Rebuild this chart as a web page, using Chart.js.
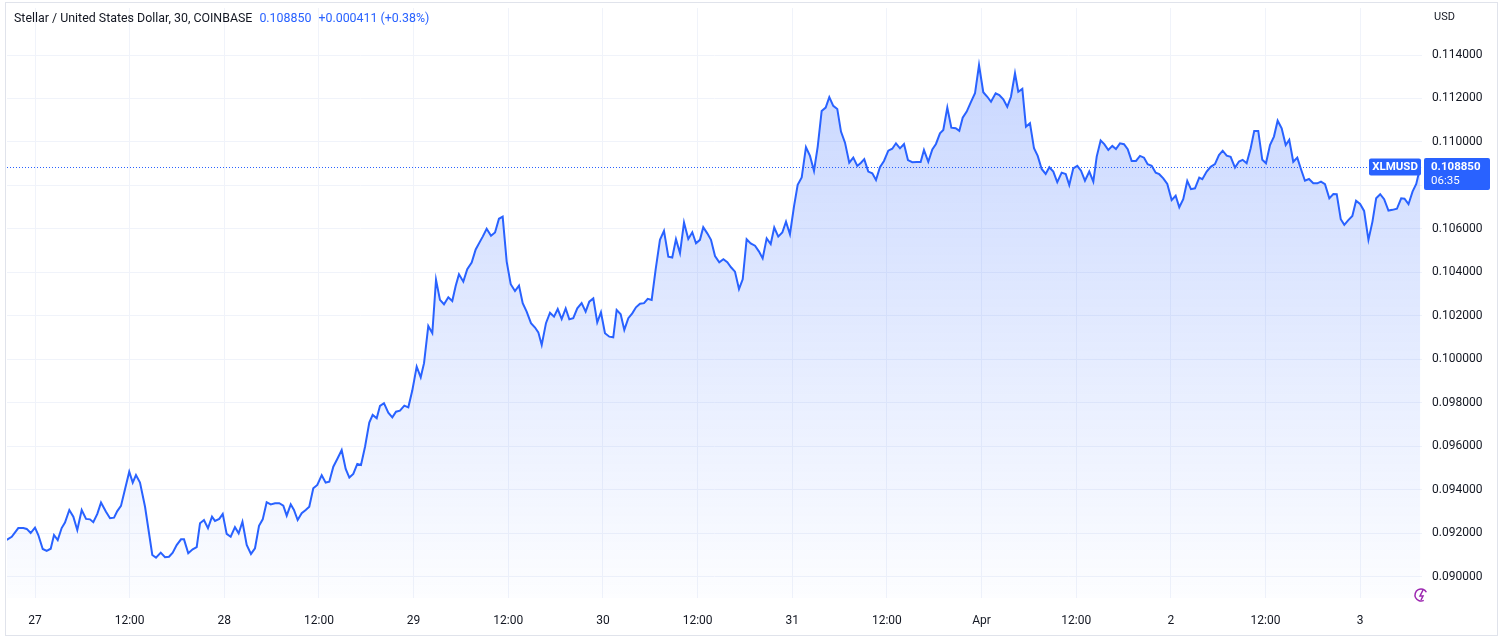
<!DOCTYPE html>
<html><head><meta charset="utf-8">
<script src="https://cdn.jsdelivr.net/npm/chart.js@4.4.1/dist/chart.umd.min.js"></script>
<style>html,body{margin:0;padding:0;background:#fff;}canvas{display:block;}</style>
</head><body>
<canvas id="c" width="1500" height="643"></canvas>
<script>
// hours since 27 Mar 00:00 (30-minute bars)
const hours = [-3.59,-2.95,-2.12,-1.48,-1.05,-0.55,0.00,0.42,0.98,1.48,1.99,2.41,2.88,3.38,3.80,4.35,4.86,5.36,5.92,6.47,6.97,7.39,7.90,8.37,9.00,9.51,10.02,10.43,10.90,11.41,11.95,12.39,12.80,13.31,13.95,14.36,14.87,15.34,15.94,16.48,16.99,17.46,17.96,18.51,18.89,19.43,19.99,20.50,20.92,21.42,21.93,22.44,22.82,23.36,23.80,24.30,24.81,25.35,25.82,26.30,26.84,27.38,27.89,28.40,28.87,29.37,29.88,30.43,30.97,31.48,31.91,32.42,32.83,33.30,33.81,34.32,34.77,35.28,35.79,36.35,36.85,37.31,37.82,38.37,38.88,39.39,39.85,40.35,40.86,41.33,41.84,42.38,42.81,43.32,43.74,44.24,44.79,45.30,45.77,46.27,46.82,47.33,47.83,48.39,48.90,49.32,49.86,50.37,50.84,51.34,51.85,52.40,52.90,53.33,53.75,54.30,54.80,55.36,55.87,56.41,56.76,57.26,57.81,58.32,58.82,59.29,59.80,60.31,60.85,61.36,61.83,62.33,62.88,63.39,63.81,64.24,64.78,65.29,65.80,66.27,66.77,67.28,67.74,68.24,68.75,69.30,69.81,70.27,70.78,71.28,71.75,72.26,72.81,73.31,73.74,74.25,74.71,75.22,75.72,76.19,76.70,77.21,77.68,78.18,78.69,79.23,79.74,80.29,80.79,81.26,81.77,82.28,82.82,83.33,83.80,84.30,84.72,85.23,85.70,86.21,86.75,87.27,87.77,88.24,88.74,89.25,89.72,90.22,90.73,91.28,91.79,92.25,92.76,93.27,93.72,94.23,94.74,95.21,95.71,96.22,96.69,97.20,97.74,98.25,98.76,99.23,99.73,100.24,100.70,101.20,101.71,102.18,102.69,103.23,103.74,104.25,104.72,105.13,105.64,106.15,106.62,107.12,107.63,108.18,108.68,109.15,109.66,110.17,110.67,111.22,111.78,112.28,112.70,113.25,113.76,114.22,114.73,115.15,115.66,116.17,116.72,117.18,117.61,118.12,118.62,119.17,119.68,120.22,120.73,121.20,121.79,122.25,122.76,123.26,123.73,124.24,124.66,125.17,125.63,126.14,126.65,127.12,127.62,128.13,128.59,129.10,129.60,130.16,130.67,131.12,131.63,132.14,132.61,133.11,133.66,134.17,134.60,135.10,135.56,136.07,136.58,137.04,137.55,138.06,138.53,139.03,139.58,140.09,140.60,141.06,141.57,142.08,142.53,143.04,143.55,144.10,144.61,145.07,145.57,146.08,146.55,147.06,147.60,147.99,148.54,149.05,149.59,150.10,150.57,151.08,151.58,152.13,152.64,153.10,153.61,154.12,154.57,155.08,155.59,156.06,156.57,157.07,157.54,158.05,158.56,159.01,159.52,160.03,160.50,161.00,161.51,162.06,162.57,163.03,163.54,164.09,164.60,165.03,165.54,165.99,166.50,167.01,167.48,167.99,168.50,169.05,169.56,170.03,170.54,171.04,171.59,172.10,172.66,173.20,173.62,174.13,174.64,175.11,175.62];
const prices = [0.09170,0.09185,0.09225,0.09225,0.09221,0.09202,0.09227,0.09193,0.09129,0.09120,0.09130,0.09193,0.09170,0.09225,0.09250,0.09308,0.09277,0.09216,0.09308,0.09267,0.09265,0.09252,0.09290,0.09342,0.09300,0.09270,0.09273,0.09303,0.09327,0.09403,0.09484,0.09434,0.09469,0.09434,0.09323,0.09224,0.09101,0.09089,0.09112,0.09091,0.09093,0.09112,0.09147,0.09173,0.09173,0.09109,0.09127,0.09137,0.09247,0.09262,0.09224,0.09277,0.09258,0.09267,0.09290,0.09198,0.09185,0.09229,0.09201,0.09254,0.09147,0.09106,0.09132,0.09235,0.09265,0.09344,0.09334,0.09339,0.09339,0.09328,0.09282,0.09334,0.09308,0.09262,0.09293,0.09308,0.09323,0.09408,0.09423,0.09468,0.09434,0.09438,0.09507,0.09546,0.09584,0.09497,0.09457,0.09474,0.09520,0.09515,0.09599,0.09710,0.09745,0.09730,0.09787,0.09799,0.09755,0.09734,0.09760,0.09765,0.09788,0.09780,0.09857,0.09967,0.09918,0.09983,0.10154,0.10121,0.10366,0.10274,0.10254,0.10286,0.10269,0.10338,0.10392,0.10358,0.10415,0.10446,0.10506,0.10542,0.10565,0.10601,0.10569,0.10584,0.10647,0.10657,0.10450,0.10346,0.10315,0.10340,0.10259,0.10220,0.10167,0.10147,0.10125,0.10067,0.10167,0.10215,0.10197,0.10232,0.10186,0.10235,0.10185,0.10190,0.10235,0.10259,0.10220,0.10266,0.10281,0.10171,0.10217,0.10121,0.10105,0.10102,0.10228,0.10208,0.10136,0.10190,0.10212,0.10240,0.10256,0.10259,0.10279,0.10274,0.10415,0.10550,0.10591,0.10473,0.10469,0.10553,0.10489,0.10630,0.10554,0.10585,0.10534,0.10550,0.10608,0.10580,0.10550,0.10476,0.10447,0.10461,0.10447,0.10424,0.10404,0.10324,0.10369,0.10553,0.10534,0.10523,0.10496,0.10465,0.10557,0.10531,0.10607,0.10565,0.10584,0.10634,0.10576,0.10703,0.10803,0.10837,0.10976,0.10936,0.10867,0.10979,0.11143,0.11158,0.11206,0.11166,0.11152,0.11048,0.10997,0.10905,0.10928,0.10890,0.10905,0.10921,0.10864,0.10856,0.10825,0.10884,0.10913,0.10960,0.10969,0.10994,0.10971,0.10991,0.10917,0.10907,0.10908,0.10908,0.10963,0.10909,0.10966,0.10991,0.11040,0.11055,0.11158,0.11066,0.11063,0.11051,0.11112,0.11140,0.11181,0.11224,0.11354,0.11229,0.11208,0.11185,0.11224,0.11216,0.11196,0.11162,0.11208,0.11316,0.11231,0.11244,0.11070,0.11086,0.10971,0.10936,0.10876,0.10853,0.10884,0.10864,0.10815,0.10859,0.10853,0.10802,0.10879,0.10890,0.10868,0.10822,0.10864,0.10818,0.10933,0.11007,0.10990,0.10963,0.10982,0.10968,0.10994,0.10990,0.10967,0.10913,0.10913,0.10936,0.10928,0.10898,0.10891,0.10859,0.10852,0.10833,0.10807,0.10733,0.10753,0.10700,0.10737,0.10821,0.10783,0.10787,0.10836,0.10829,0.10864,0.10886,0.10898,0.10940,0.10960,0.10937,0.10932,0.10882,0.10910,0.10918,0.10902,0.10971,0.11051,0.11051,0.10918,0.10902,0.10986,0.11025,0.11098,0.11063,0.10986,0.11010,0.10909,0.10928,0.10875,0.10822,0.10830,0.10810,0.10810,0.10818,0.10806,0.10741,0.10761,0.10760,0.10645,0.10619,0.10641,0.10660,0.10730,0.10715,0.10683,0.10550,0.10634,0.10741,0.10760,0.10737,0.10685,0.10688,0.10693,0.10741,0.10739,0.10714,0.10772,0.10807,0.10885];
const xTickHours = [0,12,24,36,48,60,72,84,96,108,120,132,144,156,168];
const xTickLabels = ['27','12:00','28','12:00','29','12:00','30','12:00','31','12:00','Apr','12:00','2','12:00','3'];
const yTickValues = [0.090,0.092,0.094,0.096,0.098,0.100,0.102,0.104,0.106,0.108,0.110,0.112,0.114];
const titleText = 'Stellar / United States Dollar, 30, COINBASE';
const lastPrice = 0.108850;
const changeText = '+0.000411 (+0.38%)';
const symbolText = 'XLMUSD';
const countdownText = '06:35';
const currencyText = 'USD';

const FONT = 'Roboto, "Noto Sans", sans-serif';
const BLUE = '#2962ff';

const overlay = {
  id: 'overlay',
  afterDatasetsDraw(chart) {
    const c = chart.ctx, a = chart.chartArea, ys = chart.scales.y;
    const py = Math.round(ys.getPixelForValue(lastPrice)) + 0.5;
    c.save();
    c.strokeStyle = BLUE; c.lineWidth = 1; c.setLineDash([1, 2]);
    c.beginPath(); c.moveTo(a.left, py); c.lineTo(a.right - 52, py); c.stroke();
    c.setLineDash([]);
    c.restore();
  },
  afterDraw(chart) {
    const c = chart.ctx, a = chart.chartArea, ys = chart.scales.y;
    const py = ys.getPixelForValue(lastPrice);
    c.save();
    c.textBaseline = 'middle';
    c.textAlign = 'left';
    c.font = '12.4px ' + FONT;
    c.fillStyle = '#131722';
    let x = 14;
    c.fillText(titleText, x, 19);
    x += c.measureText(titleText).width + 7;
    c.fillStyle = BLUE;
    const p = lastPrice.toFixed(6);
    c.fillText(p, x, 19);
    x += c.measureText(p).width + 7;
    c.fillText(changeText, x, 19);
    c.fillStyle = '#131722';
    c.font = '11px ' + FONT;
    c.fillText(currencyText, 1434, 17);
    c.fillStyle = BLUE;
    const rr = (x0, y0, w, h, r) => { c.beginPath(); c.roundRect(x0, y0, w, h, r); c.fill(); };
    rr(a.right - 53, py - 8.5, 52, 17, 2);
    rr(a.right + 2, py - 9, 66, 32, 2);
    c.fillStyle = '#ffffff';
    c.font = 'bold 11.5px ' + FONT;
    c.textAlign = 'center';
    c.fillText(symbolText, a.right - 27, py);
    c.textAlign = 'left';
    c.fillText(p, a.right + 9, py);
    c.font = '11.5px ' + FONT;
    c.fillText(countdownText, a.right + 9, py + 14);
    c.strokeStyle = '#9c27b0'; c.lineWidth = 1.5;
    c.beginPath(); c.arc(1421, 595, 6, Math.PI * 0.35, Math.PI * 1.85); c.stroke();
    c.beginPath(); c.moveTo(1423, 590); c.lineTo(1420, 596); c.lineTo(1423, 596); c.lineTo(1421, 600); c.stroke();
    c.strokeStyle = '#e0e3eb'; c.lineWidth = 1;
    c.strokeRect(5.5, 2.5, 1492, 633);
    c.restore();
  }
};

const points = hours.map((h, i) => ({ x: h, y: prices[i] }));

new Chart(document.getElementById('c').getContext('2d'), {
  type: 'line',
  data: { datasets: [{
    data: points,
    borderColor: BLUE,
    borderWidth: 2,
    pointRadius: 0,
    tension: 0,
    fill: 'start',
    backgroundColor: (ctx) => {
      const ch = ctx.chart, ar = ch.chartArea;
      if (!ar) return 'rgba(41,98,255,0.15)';
      const g = ch.ctx.createLinearGradient(0, ar.top, 0, ar.bottom);
      g.addColorStop(0, 'rgba(41,98,255,0.28)');
      g.addColorStop(1, 'rgba(41,98,255,0.01)');
      return g;
    }
  }]},
  options: {
    responsive: false,
    devicePixelRatio: 1,
    animation: false,
    layout: { padding: { left: 7, top: 8, right: 0, bottom: 0 } },
    plugins: { legend: { display: false }, tooltip: { enabled: false } },
    scales: {
      x: {
        type: 'linear',
        min: -3.55, max: 175.84,
        afterBuildTicks: (s) => { s.ticks = xTickHours.map(v => ({ value: v })); },
        afterFit: (s) => { s.height = 45; s.paddingLeft = 0; s.paddingRight = 0; },
        grid: { color: '#f0f3fa', drawTicks: false },
        border: { display: false },
        ticks: {
          autoSkip: false, maxRotation: 0, padding: 16,
          color: '#131722', font: { family: FONT, size: 12 },
          callback: (v) => { const i = xTickHours.indexOf(v); return i >= 0 ? xTickLabels[i] : ''; }
        }
      },
      y: {
        position: 'right',
        min: 0.089034, max: 0.116161,
        afterBuildTicks: (s) => { s.ticks = yTickValues.map(v => ({ value: v })); },
        afterFit: (s) => { s.width = 78; s.paddingTop = 0; s.paddingBottom = 0; },
        grid: { color: '#f0f3fa', drawTicks: false },
        border: { display: false },
        ticks: {
          padding: 10,
          color: '#131722', font: { family: FONT, size: 12 },
          callback: (v) => v.toFixed(6)
        }
      }
    }
  },
  plugins: [overlay]
});
</script>
</body></html>
